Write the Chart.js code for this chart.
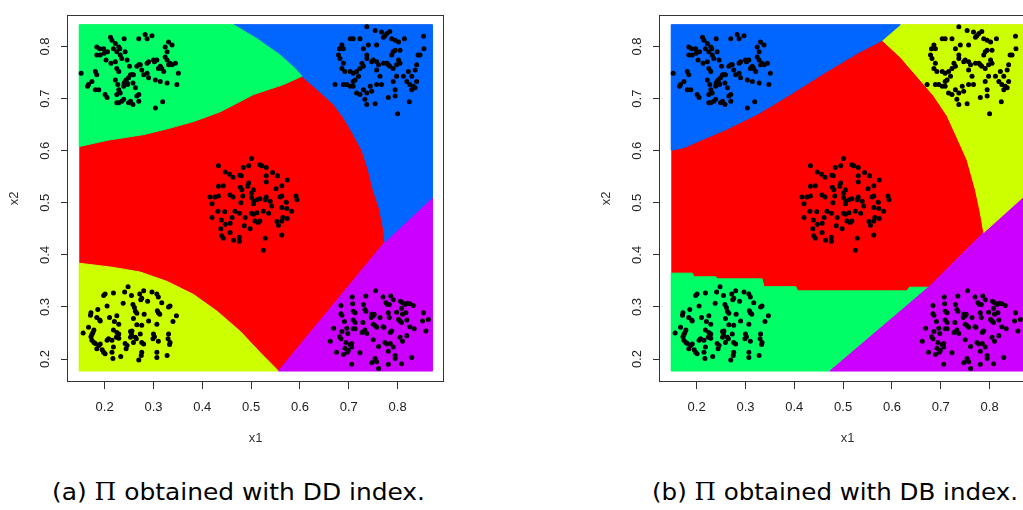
<!DOCTYPE html>
<html>
<head>
<meta charset="utf-8">
<script src="https://cdn.jsdelivr.net/npm/chart.js@4.4.1/dist/chart.umd.min.js"></script>
<style>
  html, body { margin: 0; padding: 0; background: #fff; width: 1023px; height: 510px; overflow: hidden; position: relative; }
  canvas.panel { position: absolute; top: 0; }
  #chartA { left: 0; }
  #chartB { left: 592px; }
  .cap { position: absolute; top: 481px; font-family: "DejaVu Sans", sans-serif; font-size: 23.5px; line-height: 1; white-space: nowrap; color: #000; transform-origin: 0 0; }
  .cap .pi { font-family: "DejaVu Serif", serif; }
</style>
</head>
<body>
<canvas id="chartA" class="panel" width="460" height="460"></canvas>
<canvas id="chartB" class="panel" width="460" height="460"></canvas>
<div id="capA" class="cap" style="left:52px">(a) <span class="pi">Π</span> obtained with DD index.</div>
<div id="capB" class="cap" style="left:652px">(b) <span class="pi">Π</span> obtained with DB index.</div>

<script>
// ---- axis ticks ----
const xTicks = [0.2, 0.3, 0.4, 0.5, 0.6, 0.7, 0.8];
const yTicks = [0.2, 0.3, 0.4, 0.5, 0.6, 0.7, 0.8];
const tickLabels = ['0.2', '0.3', '0.4', '0.5', '0.6', '0.7', '0.8'];

// ---- sample points (x1, x2), five groups ----
const clusterTopLeft = [
  [0.152,0.749],[0.165,0.724],[0.167,0.727],[0.174,0.733],[0.181,0.717],[0.184,0.799],[0.190,0.796],[0.191,0.784],
  [0.184,0.784],[0.181,0.752],[0.188,0.717],[0.198,0.796],[0.199,0.787],[0.203,0.774],[0.206,0.790],[0.212,0.818],
  [0.215,0.812],[0.218,0.796],[0.222,0.806],[0.225,0.790],[0.229,0.799],[0.231,0.796],[0.232,0.784],[0.235,0.777],
  [0.240,0.815],[0.242,0.790],[0.246,0.774],[0.213,0.768],[0.222,0.771],[0.225,0.758],[0.229,0.752],[0.222,0.736],
  [0.227,0.727],[0.229,0.717],[0.225,0.708],[0.232,0.711],[0.229,0.692],[0.235,0.695],[0.239,0.724],[0.240,0.730],
  [0.242,0.733],[0.244,0.736],[0.246,0.730],[0.247,0.727],[0.249,0.740],[0.253,0.746],[0.256,0.746],[0.259,0.746],
  [0.258,0.730],[0.263,0.721],[0.266,0.705],[0.270,0.708],[0.270,0.695],[0.258,0.689],[0.253,0.695],[0.249,0.692],
  [0.239,0.699],[0.225,0.692],[0.205,0.702],[0.201,0.708],[0.184,0.746],[0.251,0.762],[0.266,0.762],[0.270,0.765],
  [0.273,0.765],[0.276,0.755],[0.280,0.746],[0.287,0.768],[0.290,0.771],[0.270,0.815],[0.283,0.823],[0.287,0.815],
  [0.297,0.821],[0.300,0.774],[0.302,0.771],[0.307,0.774],[0.310,0.758],[0.314,0.762],[0.317,0.758],[0.321,0.752],
  [0.324,0.780],[0.328,0.774],[0.331,0.765],[0.334,0.768],[0.338,0.765],[0.345,0.768],[0.351,0.749],[0.348,0.727],
  [0.328,0.730],[0.314,0.733],[0.304,0.736],[0.319,0.694],[0.304,0.682],[0.290,0.740],[0.287,0.749],[0.324,0.799],
  [0.331,0.809],[0.338,0.803],[0.328,0.790]
];
const clusterTopRight = [
  [0.737,0.838],[0.754,0.831],[0.767,0.828],[0.774,0.821],[0.778,0.825],[0.784,0.829],[0.771,0.818],[0.788,0.815],
  [0.795,0.812],[0.802,0.809],[0.814,0.815],[0.853,0.820],[0.854,0.796],[0.703,0.815],[0.709,0.815],[0.723,0.815],
  [0.730,0.796],[0.740,0.803],[0.757,0.803],[0.737,0.784],[0.686,0.803],[0.681,0.796],[0.689,0.796],[0.679,0.784],
  [0.682,0.777],[0.689,0.768],[0.686,0.758],[0.692,0.752],[0.703,0.752],[0.709,0.749],[0.716,0.752],[0.723,0.758],
  [0.727,0.768],[0.730,0.762],[0.737,0.777],[0.747,0.771],[0.750,0.774],[0.757,0.771],[0.761,0.765],[0.771,0.768],
  [0.778,0.768],[0.781,0.765],[0.784,0.762],[0.791,0.758],[0.798,0.765],[0.802,0.774],[0.805,0.768],[0.812,0.743],
  [0.819,0.733],[0.822,0.752],[0.829,0.743],[0.836,0.755],[0.839,0.765],[0.842,0.784],[0.846,0.784],[0.839,0.733],
  [0.836,0.721],[0.832,0.724],[0.825,0.727],[0.829,0.717],[0.795,0.793],[0.791,0.790],[0.788,0.784],[0.805,0.793],
  [0.798,0.743],[0.791,0.733],[0.795,0.717],[0.795,0.705],[0.781,0.702],[0.824,0.694],[0.800,0.671],[0.764,0.743],
  [0.757,0.755],[0.744,0.724],[0.747,0.714],[0.737,0.711],[0.730,0.717],[0.723,0.708],[0.716,0.711],[0.709,0.724],
  [0.703,0.724],[0.696,0.727],[0.689,0.727],[0.672,0.727],[0.733,0.699],[0.737,0.689],[0.754,0.690],[0.757,0.727],
  [0.767,0.727],[0.709,0.733],[0.713,0.736],[0.720,0.743]
];
const clusterCentre = [
  [0.501,0.585],[0.433,0.571],[0.484,0.568],[0.495,0.571],[0.518,0.573],[0.522,0.571],[0.531,0.568],[0.544,0.558],
  [0.554,0.552],[0.447,0.559],[0.456,0.555],[0.463,0.549],[0.480,0.552],[0.477,0.553],[0.531,0.552],[0.531,0.540],
  [0.574,0.544],[0.433,0.532],[0.443,0.533],[0.495,0.538],[0.493,0.532],[0.478,0.530],[0.481,0.525],[0.505,0.525],
  [0.501,0.519],[0.563,0.533],[0.551,0.527],[0.416,0.511],[0.420,0.498],[0.426,0.511],[0.433,0.513],[0.457,0.515],
  [0.463,0.511],[0.483,0.513],[0.501,0.510],[0.505,0.503],[0.512,0.506],[0.518,0.508],[0.505,0.498],[0.531,0.511],
  [0.529,0.506],[0.539,0.503],[0.559,0.511],[0.563,0.513],[0.572,0.501],[0.592,0.513],[0.594,0.506],[0.479,0.500],
  [0.542,0.494],[0.563,0.491],[0.573,0.489],[0.583,0.484],[0.420,0.472],[0.432,0.484],[0.446,0.483],[0.439,0.467],
  [0.447,0.459],[0.457,0.461],[0.461,0.472],[0.467,0.484],[0.476,0.480],[0.488,0.472],[0.501,0.480],[0.505,0.478],
  [0.512,0.481],[0.508,0.465],[0.515,0.462],[0.518,0.465],[0.525,0.484],[0.536,0.480],[0.553,0.464],[0.556,0.457],
  [0.563,0.465],[0.565,0.472],[0.574,0.470],[0.486,0.456],[0.498,0.450],[0.438,0.450],[0.440,0.437],[0.443,0.432],
  [0.457,0.443],[0.464,0.428],[0.476,0.434],[0.476,0.426],[0.529,0.432],[0.563,0.438],[0.525,0.409]
];
const clusterBottomLeft = [
  [0.248,0.339],[0.201,0.325],[0.198,0.322],[0.218,0.327],[0.241,0.329],[0.255,0.322],[0.272,0.325],[0.280,0.331],
  [0.276,0.317],[0.274,0.314],[0.288,0.311],[0.297,0.329],[0.307,0.325],[0.310,0.319],[0.317,0.308],[0.334,0.302],
  [0.331,0.300],[0.238,0.307],[0.205,0.302],[0.258,0.305],[0.261,0.299],[0.263,0.292],[0.266,0.288],[0.281,0.286],
  [0.290,0.273],[0.308,0.293],[0.310,0.289],[0.313,0.286],[0.186,0.295],[0.172,0.289],[0.171,0.284],[0.184,0.280],
  [0.190,0.275],[0.191,0.273],[0.210,0.280],[0.225,0.283],[0.229,0.267],[0.220,0.272],[0.259,0.278],[0.307,0.267],
  [0.347,0.283],[0.340,0.272],[0.156,0.250],[0.167,0.261],[0.178,0.256],[0.176,0.251],[0.174,0.247],[0.172,0.243],
  [0.218,0.256],[0.225,0.251],[0.229,0.248],[0.253,0.253],[0.256,0.254],[0.266,0.266],[0.276,0.265],[0.273,0.248],
  [0.255,0.247],[0.253,0.242],[0.263,0.242],[0.259,0.232],[0.265,0.239],[0.276,0.232],[0.280,0.229],[0.300,0.248],
  [0.302,0.243],[0.299,0.239],[0.310,0.234],[0.331,0.248],[0.330,0.239],[0.334,0.232],[0.333,0.228],[0.174,0.236],
  [0.178,0.232],[0.181,0.230],[0.191,0.229],[0.188,0.226],[0.184,0.220],[0.195,0.218],[0.198,0.213],[0.201,0.210],
  [0.205,0.236],[0.208,0.239],[0.215,0.236],[0.218,0.223],[0.215,0.213],[0.217,0.201],[0.224,0.242],[0.229,0.240],
  [0.233,0.205],[0.242,0.230],[0.246,0.226],[0.244,0.220],[0.276,0.213],[0.275,0.207],[0.270,0.198],[0.307,0.213],
  [0.307,0.203],[0.328,0.207]
];
const clusterBottomRight = [
  [0.755,0.331],[0.735,0.321],[0.707,0.319],[0.770,0.319],[0.786,0.321],[0.791,0.314],[0.776,0.308],[0.779,0.305],
  [0.783,0.305],[0.806,0.311],[0.810,0.308],[0.815,0.305],[0.820,0.307],[0.825,0.306],[0.832,0.303],[0.708,0.306],
  [0.684,0.303],[0.730,0.305],[0.733,0.295],[0.735,0.292],[0.709,0.292],[0.713,0.289],[0.684,0.287],[0.686,0.284],
  [0.747,0.286],[0.750,0.283],[0.746,0.280],[0.752,0.286],[0.764,0.280],[0.781,0.289],[0.783,0.280],[0.798,0.290],
  [0.808,0.297],[0.810,0.286],[0.817,0.289],[0.802,0.276],[0.805,0.273],[0.808,0.270],[0.819,0.275],[0.853,0.289],
  [0.851,0.273],[0.863,0.276],[0.691,0.272],[0.709,0.275],[0.713,0.270],[0.729,0.270],[0.750,0.267],[0.754,0.264],
  [0.757,0.261],[0.770,0.262],[0.772,0.261],[0.788,0.254],[0.785,0.251],[0.825,0.262],[0.834,0.258],[0.858,0.254],
  [0.669,0.259],[0.686,0.253],[0.696,0.259],[0.698,0.249],[0.709,0.258],[0.713,0.258],[0.727,0.251],[0.733,0.256],
  [0.737,0.249],[0.750,0.237],[0.681,0.243],[0.684,0.239],[0.662,0.234],[0.694,0.232],[0.706,0.223],[0.699,0.217],
  [0.697,0.213],[0.692,0.221],[0.706,0.230],[0.703,0.228],[0.675,0.213],[0.689,0.209],[0.723,0.212],[0.761,0.224],
  [0.774,0.232],[0.778,0.229],[0.785,0.230],[0.781,0.215],[0.791,0.223],[0.805,0.242],[0.819,0.245],[0.810,0.234],
  [0.795,0.207],[0.795,0.201],[0.808,0.191],[0.829,0.203],[0.747,0.193],[0.754,0.198],[0.757,0.195],[0.754,0.201],
  [0.761,0.182],[0.781,0.190],[0.706,0.190]
];

// ---- partition regions over the evaluation grid (outlines in data units) ----
const gridRect = [[0.148,0.177],[0.871,0.177],[0.871,0.842],[0.148,0.842],[0.148,0.177]];

// (a) DD index
const ddGreen = [[0.148,0.842],[0.464,0.842],[0.512,0.815],[0.559,0.784],[0.590,0.758],[0.604,0.743],[0.566,0.727],
  [0.505,0.708],[0.437,0.675],[0.382,0.656],[0.328,0.642],[0.280,0.631],[0.205,0.620],[0.148,0.608],[0.148,0.842]];
const ddBlue = [[0.464,0.842],[0.871,0.842],[0.871,0.510],[0.774,0.425],[0.771,0.450],[0.763,0.488],[0.750,0.525],
  [0.740,0.563],[0.727,0.601],[0.709,0.632],[0.689,0.664],[0.669,0.689],[0.641,0.713],[0.604,0.743],[0.590,0.758],
  [0.559,0.784],[0.512,0.815],[0.464,0.842]];
const ddPurple = [[0.774,0.425],[0.871,0.510],[0.871,0.177],[0.556,0.177],[0.774,0.425]];
const ddYellow = [[0.148,0.384],[0.218,0.376],[0.273,0.367],[0.328,0.349],[0.382,0.324],[0.430,0.292],[0.478,0.253],
  [0.518,0.213],[0.556,0.177],[0.148,0.177],[0.148,0.384]];

// (b) DB index
const dbBlue = [[0.148,0.842],[0.617,0.842],[0.580,0.812],[0.529,0.787],[0.461,0.749],[0.392,0.708],[0.324,0.670],
  [0.256,0.639],[0.208,0.620],[0.175,0.606],[0.148,0.601],[0.148,0.842]];
const dbYellow = [[0.617,0.842],[0.871,0.842],[0.871,0.513],[0.788,0.443],[0.781,0.481],[0.771,0.525],[0.754,0.582],
  [0.733,0.626],[0.713,0.667],[0.686,0.705],[0.651,0.743],[0.617,0.780],[0.580,0.812],[0.617,0.842]];
const dbPurple = [[0.788,0.443],[0.871,0.513],[0.871,0.177],[0.473,0.177],[0.675,0.338],[0.788,0.443]];
const dbGreen = [[0.148,0.365],[0.191,0.365],[0.195,0.358],[0.239,0.358],[0.243,0.354],[0.334,0.354],[0.338,0.339],
  [0.403,0.339],[0.407,0.331],[0.631,0.331],[0.636,0.338],[0.675,0.338],[0.473,0.177],[0.148,0.177],[0.148,0.365]];

// rainbow(5)
const RED = '#FF0000', YELLOW = '#CCFF00', GREEN = '#00FF66', BLUE = '#0066FF', PURPLE = '#CC00FF';

const toXY = arr => arr.map(([x, y]) => ({ x, y }));
const allPoints = [].concat(clusterTopLeft, clusterTopRight, clusterCentre, clusterBottomLeft, clusterBottomRight);

const FONT = "'Liberation Sans', Arial, sans-serif";

const boxPlugin = {
  id: 'plotBox',
  afterDatasetsDraw(chart) {
    const { ctx, chartArea: a } = chart;
    ctx.save();
    ctx.strokeStyle = '#333';
    ctx.lineWidth = 1;
    ctx.strokeRect(Math.round(a.left) - 0.5, Math.round(a.top) + 0.5,
                   Math.round(a.right - a.left) + 1, Math.round(a.bottom - a.top) - 1);
    ctx.restore();
  }
};

function regionDataset(poly, color, order, edge) {
  return {
    data: toXY(poly),
    showLine: true,
    fill: 'shape',
    tension: 0,
    backgroundColor: color,
    borderColor: color,
    borderWidth: edge,
    pointRadius: 0,
    order
  };
}

function makeChart(id, regions) {
  const datasets = [
    { data: toXY(allPoints), showLine: false, pointRadius: 2.5, pointBackgroundColor: '#000',
      pointBorderWidth: 0, backgroundColor: '#000', order: 0 },
    regionDataset(gridRect, RED, 10, 0)
  ];
  regions.forEach(([poly, color]) => datasets.push(regionDataset(poly, color, 5, 1)));

  return new Chart(document.getElementById(id), {
    type: 'scatter',
    data: { datasets },
    options: {
      responsive: false,
      animation: false,
      events: [],
      layout: { padding: { top: 9, right: 17, left: 0, bottom: 0 } },
      plugins: { legend: { display: false }, tooltip: { enabled: false } },
      scales: {
        x: {
          type: 'linear', min: 0.125, max: 0.893,
          afterBuildTicks: s => { s.ticks = xTicks.map(v => ({ value: v })); },
          afterFit: s => { s.height = 78; },
          grid: { drawOnChartArea: false, drawTicks: true, tickLength: 7, color: '#333', tickColor: '#333' },
          border: { display: false },
          ticks: {
            autoSkip: false, maxRotation: 0, padding: 11, color: '#222',
            font: { family: FONT, size: 13 },
            callback: v => tickLabels[xTicks.indexOf(v)]
          },
          title: { display: true, text: 'x1', color: '#333', font: { family: FONT, size: 13 }, padding: { top: 0, bottom: 14 } }
        },
        y: {
          type: 'linear', min: 0.156, max: 0.861,
          afterBuildTicks: s => { s.ticks = yTicks.map(v => ({ value: v })); },
          afterFit: s => { s.width = 68; },
          grid: { drawOnChartArea: false, drawTicks: true, tickLength: 7, color: '#333', tickColor: '#333' },
          border: { display: false },
          ticks: {
            autoSkip: false, minRotation: 90, maxRotation: 90, crossAlign: 'center', padding: 7, color: '#222',
            font: { family: FONT, size: 13 },
            callback: v => tickLabels[yTicks.indexOf(v)]
          },
          title: { display: true, text: 'x2', color: '#333', font: { family: FONT, size: 13 }, padding: { top: 7, bottom: 0 } }
        }
      }
    },
    plugins: [boxPlugin]
  });
}

makeChart('chartA', [[ddGreen, GREEN], [ddBlue, BLUE], [ddPurple, PURPLE], [ddYellow, YELLOW]]);
makeChart('chartB', [[dbBlue, BLUE], [dbYellow, YELLOW], [dbPurple, PURPLE], [dbGreen, GREEN]]);

// stretch captions to their set widths
[['capA', 373], ['capB', 366]].forEach(([id, w]) => {
  const el = document.getElementById(id);
  const cur = el.getBoundingClientRect().width;
  el.style.transform = 'scaleX(' + (w / cur) + ')';
});
</script>
</body>
</html>
